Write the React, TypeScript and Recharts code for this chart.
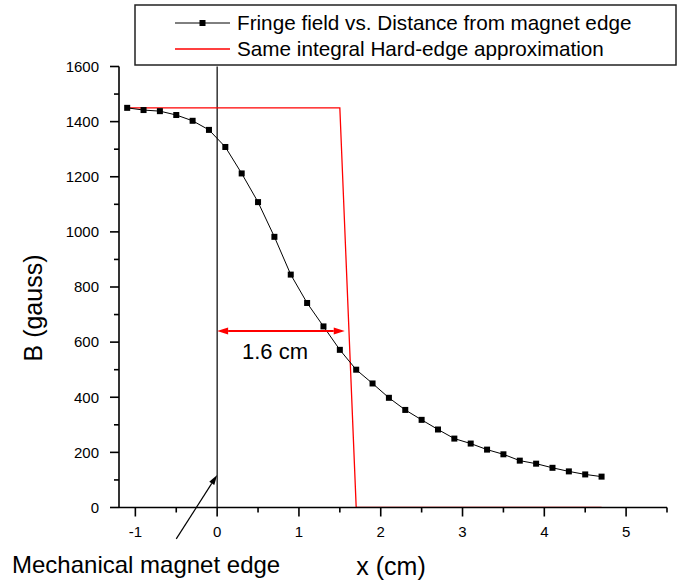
import { ComposedChart, Line, XAxis, YAxis, ReferenceLine } from "recharts";

// ── Data ──────────────────────────────────────────────────────────────────────
const fringeX = [-1.1, -0.9, -0.7, -0.5, -0.3, -0.1, 0.1, 0.3, 0.5, 0.7, 0.9, 1.1, 1.3, 1.5, 1.7,
  1.9, 2.1, 2.3, 2.5, 2.7, 2.9, 3.1, 3.3, 3.5, 3.7, 3.9, 4.1, 4.3, 4.5, 4.7];
const fringeB = [1450, 1442, 1438, 1424, 1403, 1370, 1308, 1212, 1108, 982, 845, 742, 657, 572, 500,
  450, 398, 354, 318, 283, 250, 232, 210, 193, 170, 159, 144, 131, 120, 112];

const hardX = [-1.1, 1.5, 1.7, 4.7];
const hardB = [1450, 1450, 0, 0];

const xTicks = [-1, -0.5, 0, 0.5, 1, 1.5, 2, 2.5, 3, 3.5, 4, 4.5, 5, 5.5];
const yTicks = [0, 100, 200, 300, 400, 500, 600, 700, 800, 900, 1000, 1100, 1200, 1300, 1400, 1500, 1600];

// annotations (data coords)
const magnetEdgeX = 0;
const widthArrow = { y: 640, from: 0, to: 1.56 };
const pointer = { fromX: -0.5, fromY: -114, toX: 0, toY: 118 };

const fringe = fringeX.map((x, i) => ({ x, b: fringeB[i] }));
const hard = hardX.map((x, i) => ({ x, b: hardB[i] }));

const FONT = "'Liberation Sans', Arial, Helvetica, sans-serif";

// ── Helpers ───────────────────────────────────────────────────────────────────
const isMajor = (v: number, step: number) => Math.abs(v / step - Math.round(v / step)) < 1e-6;

function XTick({ x, y, payload }: any) {
  const v = payload.value as number;
  const major = isMajor(v, 1);
  return (
    <g>
      <line x1={x} y1={y} x2={x} y2={y + (major ? 9 : 5)} stroke="#000" strokeWidth={1.6} />
      {major && (
        <text x={x} y={y + 29} textAnchor="middle" fill="#000"
          style={{ fontSize: 15, fontFamily: FONT }}>{v}</text>
      )}
    </g>
  );
}

function YTick({ x, y, payload }: any) {
  const v = payload.value as number;
  const major = isMajor(v, 200);
  return (
    <g>
      <line x1={x} y1={y} x2={x - (major ? 9 : 5)} y2={y} stroke="#000" strokeWidth={1.6} />
      {major && (
        <text x={x - 20} y={y + 5.3} textAnchor="end" fill="#000"
          style={{ fontSize: 15, fontFamily: FONT }}>{v}</text>
      )}
    </g>
  );
}

function SquareDot({ cx, cy, index }: any) {
  return <rect key={index} x={cx - 3} y={cy - 3} width={6} height={6} fill="#000" />;
}

function DoubleArrow({ x1, y1, x2, y2 }: any) {
  const h = 11, w = 3.5;
  return (
    <g>
      <line x1={x1 + h} y1={y1} x2={x2 - h} y2={y2} stroke="#ff0000" strokeWidth={2} />
      <polygon points={`${x1},${y1} ${x1 + h},${y1 - w} ${x1 + h},${y1 + w}`} fill="#ff0000" />
      <polygon points={`${x2},${y2} ${x2 - h},${y2 - w} ${x2 - h},${y2 + w}`} fill="#ff0000" />
    </g>
  );
}

function PointerArrow({ x1, y1, x2, y2 }: any) {
  const dx = x2 - x1, dy = y2 - y1;
  const len = Math.hypot(dx, dy);
  const ux = dx / len, uy = dy / len;
  const h = 10, w = 3;
  const bx = x2 - ux * h, by = y2 - uy * h;
  return (
    <g>
      <line x1={x1} y1={y1} x2={bx} y2={by} stroke="#000" strokeWidth={1.2} />
      <polygon
        points={`${x2},${y2} ${bx - uy * w},${by + ux * w} ${bx + uy * w},${by - ux * w}`}
        fill="#000"
      />
    </g>
  );
}

// ── Main ──────────────────────────────────────────────────────────────────────
export default function App() {
  return (
    <div style={{ position: "absolute", left: 0, top: 0, width: 680, height: 586, background: "#fff" }}>
      <ComposedChart width={680} height={586} margin={{ top: 66.5, right: 13, bottom: 38.5, left: 59 }}>
        <XAxis
          type="number" dataKey="x" domain={[-1.2, 5.5]} ticks={xTicks} interval={0}
          allowDataOverflow height={40} tickSize={0} tickMargin={0} tickLine={false}
          axisLine={{ stroke: "#000", strokeWidth: 1.6 }} tick={<XTick />}
        />
        <YAxis
          type="number" domain={[0, 1600]} ticks={yTicks} interval={0}
          allowDataOverflow width={60} tickSize={0} tickMargin={0} tickLine={false}
          axisLine={{ stroke: "#000", strokeWidth: 1.6 }} tick={<YTick />}
        />
        <ReferenceLine x={magnetEdgeX} stroke="#000" strokeWidth={1.2} />
        <Line
          data={hard} dataKey="b" type="linear" stroke="#ff0000" strokeWidth={1.3}
          dot={false} activeDot={false} isAnimationActive={false}
        />
        <Line
          data={fringe} dataKey="b" type="linear" stroke="#000" strokeWidth={1}
          dot={<SquareDot />} activeDot={false} isAnimationActive={false}
        />
        <ReferenceLine
          segment={[{ x: widthArrow.from, y: widthArrow.y }, { x: widthArrow.to, y: widthArrow.y }]}
          ifOverflow="visible" shape={<DoubleArrow />}
        />
        <ReferenceLine
          segment={[{ x: pointer.fromX, y: pointer.fromY }, { x: pointer.toX, y: pointer.toY }]}
          ifOverflow="visible" shape={<PointerArrow />}
        />
      </ComposedChart>

      {/* texts + legend */}
      <svg width={680} height={586} style={{ position: "absolute", left: 0, top: 0, pointerEvents: "none" }}
        fontFamily={FONT}>
        <rect x={135} y={5} width={541} height={60} fill="#fff" stroke="#222" strokeWidth={1.5} />
        <line x1={175} y1={23} x2={230} y2={23} stroke="#000" strokeWidth={1} />
        <rect x={199.5} y={20} width={6} height={6} fill="#000" />
        <text x={237} y={30} fontSize={20.7} fill="#000">Fringe field vs. Distance from magnet edge</text>
        <line x1={175} y1={49} x2={230} y2={49} stroke="#ff0000" strokeWidth={1.3} />
        <text x={237} y={56} fontSize={20.7} fill="#000">Same integral Hard-edge approximation</text>

        <text x={275} y={359} textAnchor="middle" fontSize={22} fill="#000">1.6 cm</text>
        <text x={42} y={308} textAnchor="middle" fontSize={25} fill="#000" transform="rotate(-90 42 308)">B (gauss)</text>
        <text x={391} y={575} textAnchor="middle" fontSize={25} fill="#000">x (cm)</text>
        <text x={12} y={573} fontSize={24} fill="#000">Mechanical magnet edge</text>
      </svg>
    </div>
  );
}
